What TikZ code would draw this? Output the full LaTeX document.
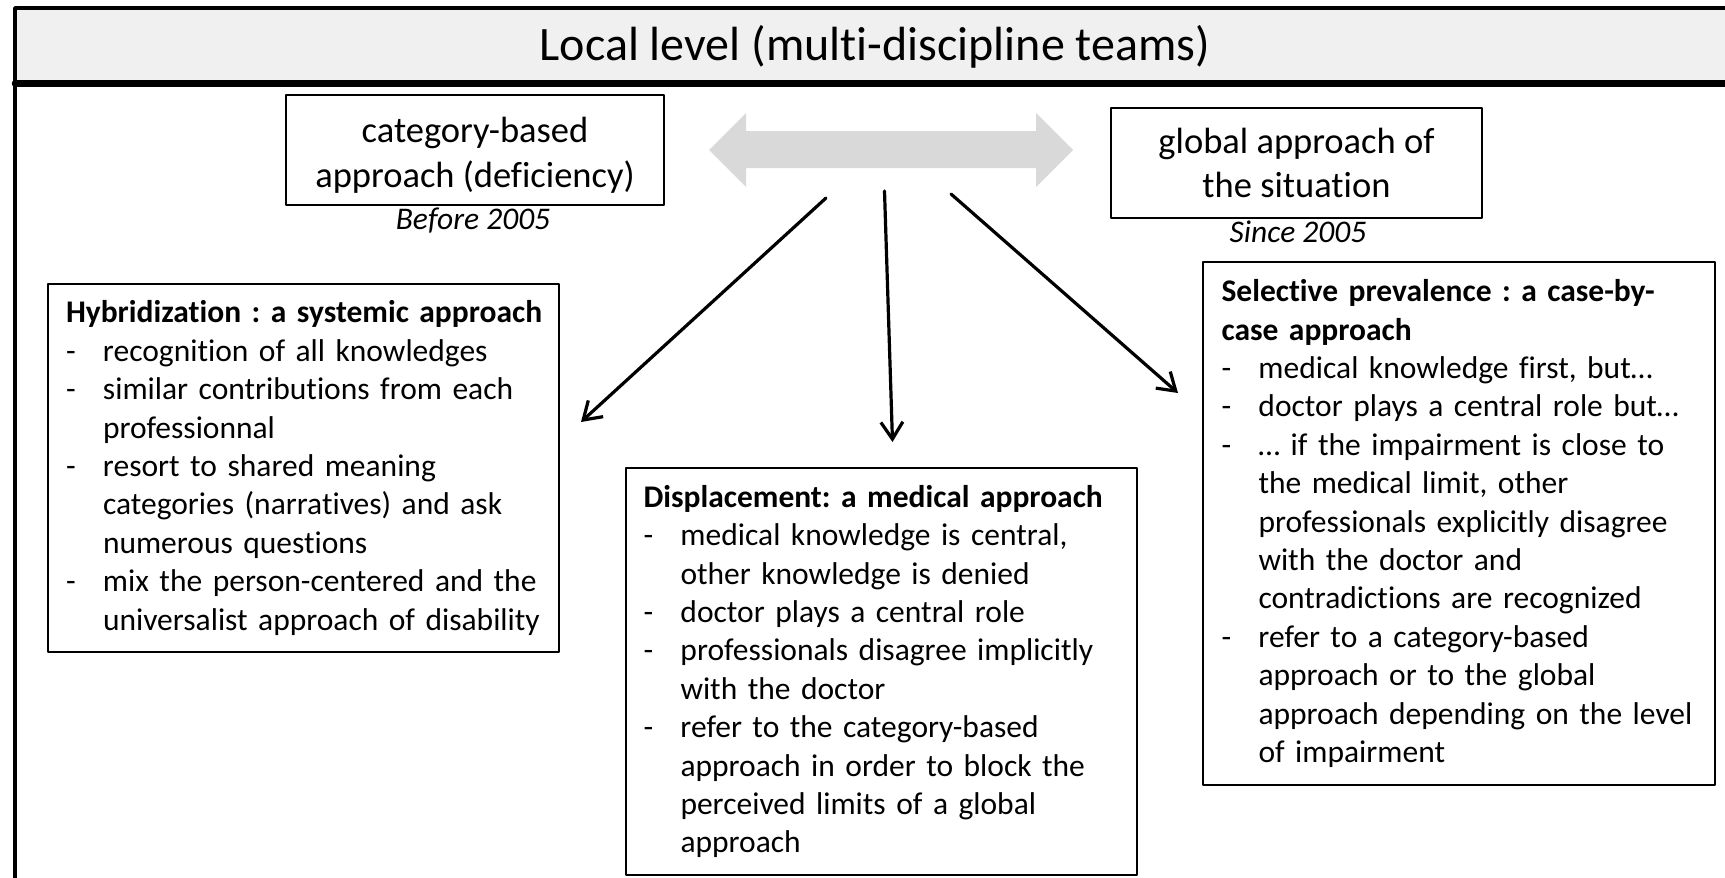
\documentclass[tikz,border=0pt]{standalone}
\usepackage{fontspec}
\setmainfont{Carlito}[Ligatures=NoCommon]
\usetikzlibrary{arrows.meta}
\definecolor{bannergray}{HTML}{F0F0F0}
\definecolor{linkgray}{HTML}{D9D9D9}
\frenchspacing
\newcommand{\bodysize}{\fontsize{31.5}{38.4}\selectfont}
\newcommand{\dashitem}{\makebox[37pt][l]{-}}
\newcommand{\cont}{\hspace*{37pt}}
\newcommand{\headline}[1]{\mbox{\bfseries #1}}
\begin{document}
\begin{tikzpicture}[x=1pt, y=-1pt, line cap=round, line join=round,
    >={Straight Barb[length=17pt,width=22pt]},
    approach/.style={draw, line width=2, align=center, inner sep=0pt,
      font=\fontsize{36.5}{44.5}\selectfont},
    datelabel/.style={font=\bodysize\itshape},
    finding/.style={draw, line width=2, text width=475pt, inner xsep=18pt,
      inner ysep=0pt, align=left, font=\bodysize},
    link/.style={->, line width=3.2}]
    \useasboundingbox (0,0) rectangle (1725,878);
    \clip (0,0) rectangle (1725,878);

    % Frame and banner
    \fill[bannergray] (15,8) rectangle (1745,83);
    \draw[line width=3.5] (15,8) rectangle (1745,900);
    \draw[line width=6.5] (15,83.5) -- (1745,83.5);
    \node (title) at (875,47) {\fontsize{48}{57}\selectfont Local level (multi-discipline teams)};

    % Two approaches
    \node[approach, minimum width=378, minimum height=110] (category) at (475,150)
        {\rule{0pt}{36pt}category-based\\approach (deficiency)};
    \node[approach, minimum width=371, minimum height=110] (global) at (1296.5,163)
        {global approach of\\the situation};
    \node[datelabel] (before) at (473,221) {Before 2005};
    \node[datelabel] (since) at (1298,232) {Since 2005};

    % Gray double arrow
    \fill[linkgray] (709,150) -- (746,113) -- (746,131) -- (1036,131) -- (1036,113)
        -- (1073,150) -- (1036,187) -- (1036,168) -- (746,168) -- (746,187) -- cycle;

    % Arrow end points
    \coordinate (S1) at (826,198);
    \coordinate (S2) at (884.5,191);
    \coordinate (S3) at (951,194);
    \coordinate (T1) at (581,422);
    \coordinate (T2) at (892.5,442);
    \coordinate (T3) at (1178,393);

    % Three findings
    \node[finding, minimum width=511, minimum height=368] (hybrid) at (303.5,468) {%
        \headline{Hybridization : a systemic approach}\\
        \dashitem recognition of all knowledges\\
        \dashitem similar contributions from each\\
        \cont professionnal\\
        \dashitem resort to shared meaning\\
        \cont categories (narratives) and ask\\
        \cont numerous questions\\
        \dashitem mix the person-centered and the\\
        \cont universalist approach of disability};
    \node[finding, minimum width=510, minimum height=407] (displace) at (881,671.5) {%
        \headline{Displacement: a medical approach}\\
        \dashitem medical knowledge is central,\\
        \cont other knowledge is denied\\
        \dashitem doctor plays a central role\\
        \dashitem professionals disagree implicitly\\
        \cont with the doctor\\
        \dashitem refer to the category-based\\
        \cont approach in order to block the\\
        \cont perceived limits of a global\\
        \cont approach};
    \node[finding, minimum width=512, minimum height=523] (select) at (1459,523.5) {%
        \headline{Selective prevalence : a case-by-}\\
        \headline{case approach}\\
        \dashitem medical knowledge first, but…\\
        \dashitem doctor plays a central role but…\\
        \dashitem … if the impairment is close to\\
        \cont the medical limit, other\\
        \cont professionals explicitly disagree\\
        \cont with the doctor and\\
        \cont contradictions are recognized\\
        \dashitem refer to a category-based\\
        \cont approach or to the global\\
        \cont approach depending on the level\\
        \cont of impairment};

    % Arrows
    \draw[link] (S1) -- (T1);
    \draw[link] (S2) -- (T2);
    \draw[link] (S3) -- (T3);
\end{tikzpicture}
\end{document}
